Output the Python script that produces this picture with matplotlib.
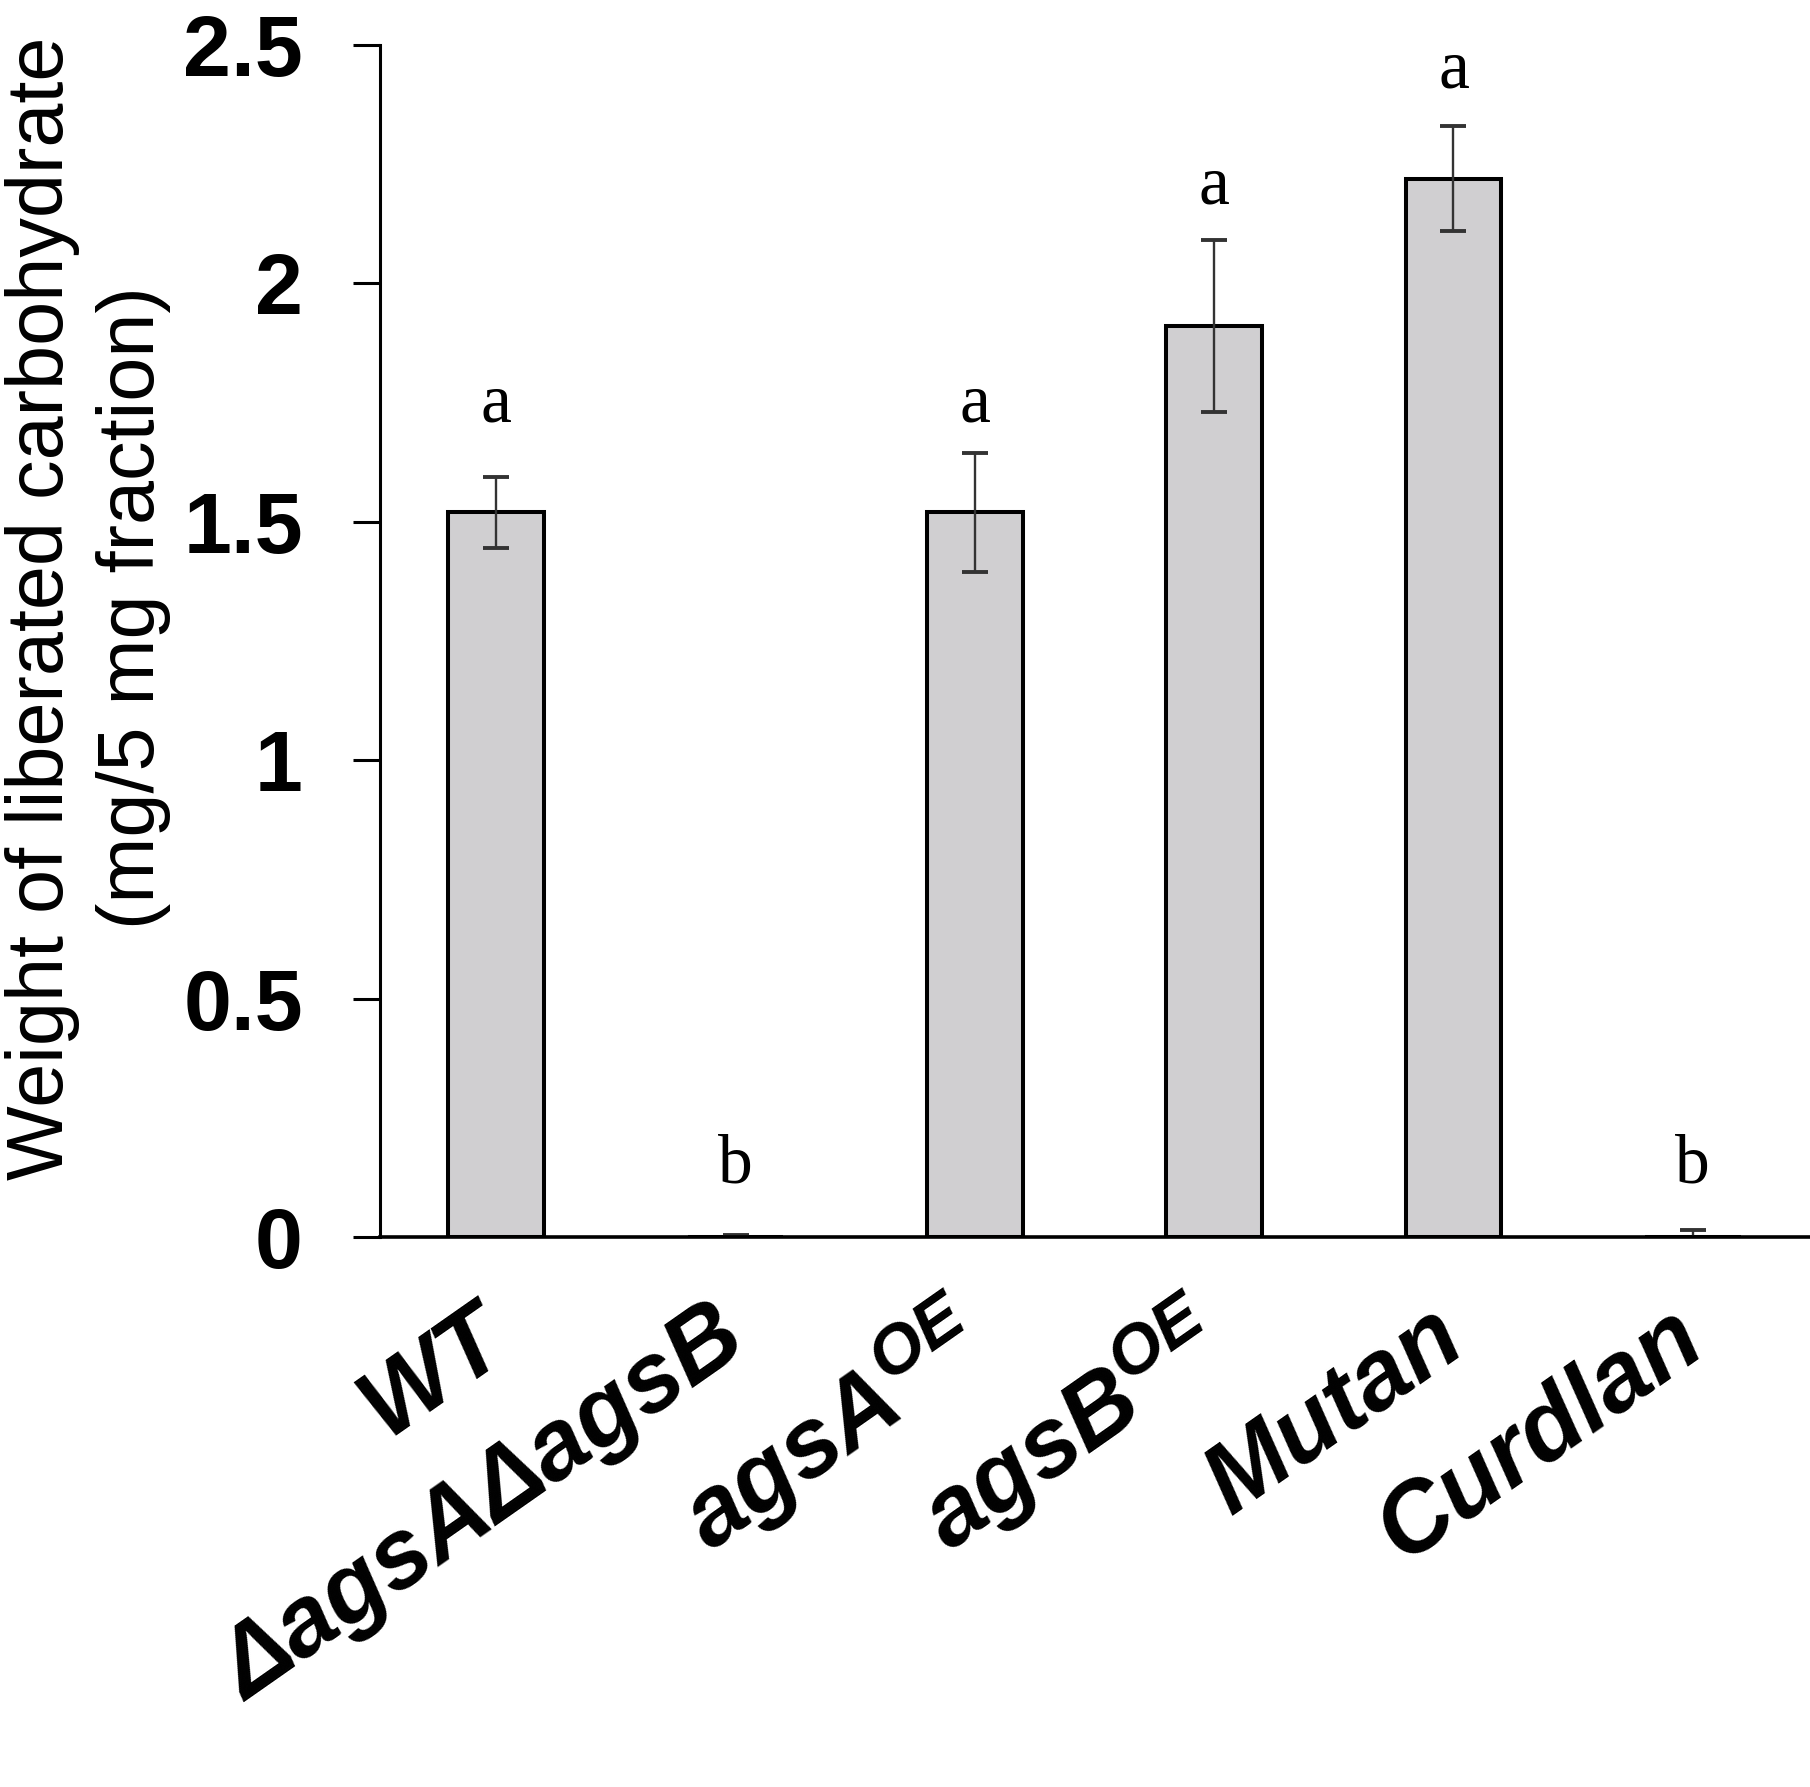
import matplotlib
matplotlib.use("Agg")
import matplotlib.pyplot as plt
import numpy as np

# ---- data ----
categories = ["WT", "\u0394agsA\u0394agsB", "agsA$^{OE}$", "agsB$^{OE}$", "Mutan", "Curdlan"]
means = [1.52, 0.0, 1.52, 1.91, 2.22, 0.0]
errors = [0.075, 0.005, 0.125, 0.18, 0.11, 0.014]
letters = ["a", "b", "a", "a", "a", "b"]
letter_y = [1.71, 0.114, 1.71, 2.168, 2.41, 0.114]
yticks = [0, 0.5, 1, 1.5, 2, 2.5]
ytick_labels = ["0", "0.5", "1", "1.5", "2", "2.5"]
ylabel = "Weight of liberated carbohydrate\n(mg/5 mg fraction)"

plt.rcParams["mathtext.fontset"] = "custom"
plt.rcParams["mathtext.it"] = "Liberation Sans:bold:italic"
plt.rcParams["mathtext.rm"] = "Liberation Sans:bold:italic"
plt.rcParams["mathtext.bf"] = "Liberation Sans:bold:italic"

W, H = 1810, 1787
fig = plt.figure(figsize=(W / 100, H / 100), dpi=100)
ax = fig.add_axes([380 / W, 1 - 1237 / H, 1 - 380 / W, (1237 - 45) / H])

x = np.arange(len(categories))
ax.bar(x, means, width=0.40, color="#d0cfd1", edgecolor="black", linewidth=2.9, zorder=2)
ax.errorbar(x, means, yerr=errors, fmt="none", ecolor="#333333", elinewidth=1.7,
            capsize=9.5, capthick=2.8, zorder=3)

for xi, lt, ly in zip(x, letters, letter_y):
    ax.text(xi, ly, lt, ha="center", va="baseline", fontsize=50,
            family="Liberation Serif", color="black")

ax.set_xlim(-0.486, len(categories) - 1 + 0.49)
ax.set_ylim(0, 2.5)

for s in ["top", "right"]:
    ax.spines[s].set_visible(False)
ax.spines["left"].set_linewidth(2.2)
ax.spines["bottom"].set_linewidth(2.6)
ax.spines["bottom"].set_zorder(4)

ax.set_yticks(yticks)
ax.set_yticklabels(ytick_labels, fontsize=62, fontweight="bold", family="Liberation Sans")
ax.tick_params(axis="y", direction="out", length=19.5, width=2.2, pad=36)

ax.set_xticks(x)
ax.set_xticklabels(categories, fontsize=71, fontweight="bold", style="italic",
                   family="Liberation Sans", rotation=35, ha="right",
                   rotation_mode="anchor", va="center")
ax.tick_params(axis="x", length=0, pad=66)

fig.text(88 / W, 1 - 608 / H, ylabel, rotation=90, ha="center", va="center",
         multialignment="center", fontsize=57, family="Liberation Sans",
         linespacing=1.28)

fig.savefig("out.png", dpi=100, facecolor="white")
